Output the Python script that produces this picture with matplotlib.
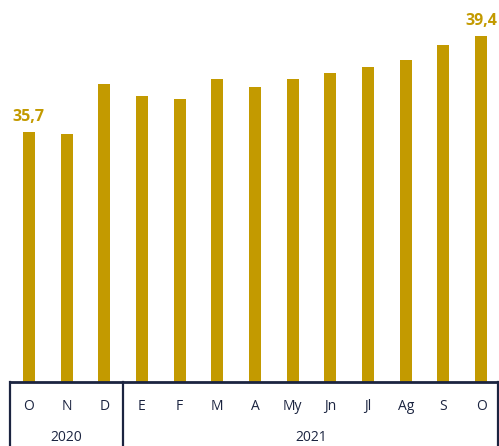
import matplotlib
matplotlib.use('Agg')
import matplotlib.pyplot as plt
import matplotlib.transforms as mtransforms

# ── Data ──────────────────────────────────────────────────────────────────────
months = ['O', 'N', 'D', 'E', 'F', 'M', 'A', 'My', 'Jn', 'Jl', 'Ag', 'S', 'O']
values = [35.7, 35.65, 37.55, 37.1, 37.0, 37.75, 37.45, 37.75, 38.0, 38.2, 38.5, 39.05, 39.4]
years = ['2020', '2021']
year_spans = [(0, 2), (3, 12)]
labels = {0: '35,7', 12: '39,4'}

GOLD = '#C39A00'
NAVY = '#1B2440'

fig = plt.figure(figsize=(4.99, 4.46), dpi=100)
ax = fig.add_axes([10 / 499, 64 / 446, 490 / 499, 382 / 446])

x = list(range(len(months)))
ax.bar(x, values, width=0.32, color=GOLD, zorder=2)

ax.set_xlim(-0.5, len(months) - 0.5)
ax.set_ylim(26.07, 40.8)
ax.axis('off')

for i, txt in labels.items():
    ax.annotate(txt, (i, values[i]), textcoords='offset points', xytext=(0, 5),
                ha='center', va='bottom', fontsize=11.5, fontweight='bold',
                color=GOLD, family=['Open Sans', 'DejaVu Sans'], annotation_clip=False)

# ── Category table under the bars ────────────────────────────────────────────
trans = mtransforms.blended_transform_factory(ax.transData, ax.transAxes)
ax.plot([-0.5, 12.5], [0, 0], color=NAVY, lw=2, transform=trans, clip_on=False)
for xv in (-0.5, 2.5, 12.45):
    ax.plot([xv, xv], [0, -0.2], color=NAVY, lw=1.6, transform=trans, clip_on=False)

for i, m in enumerate(months):
    ax.text(i, -0.065, m, transform=trans, ha='center', va='center',
            fontsize=10, color=NAVY, family=['Open Sans', 'DejaVu Sans'])
for yr, (a, b) in zip(years, year_spans):
    ax.text((a + b) / 2, -0.145, yr, transform=trans, ha='center', va='center',
            fontsize=10, color=NAVY, family=['Open Sans', 'DejaVu Sans'])

fig.savefig('out.png', dpi=100)
